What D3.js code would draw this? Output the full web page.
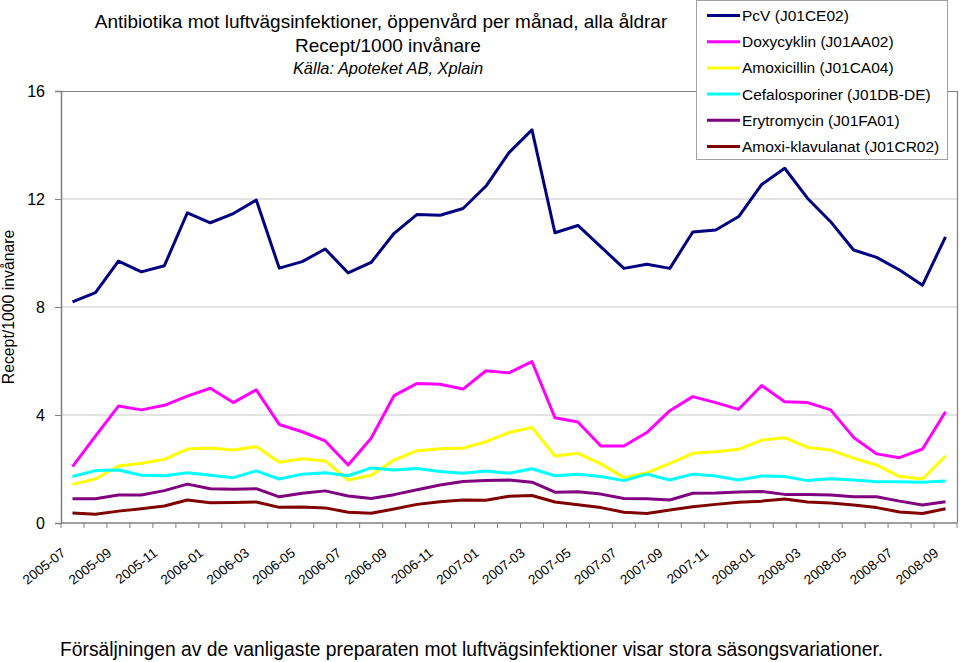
<!DOCTYPE html>
<html><head><meta charset="utf-8">
<script src="https://cdn.jsdelivr.net/npm/d3@7"></script>
<style>
html,body{margin:0;padding:0;background:#fff;}
svg{display:block;font-family:"Liberation Sans",Arial,sans-serif;}
</style></head>
<body>
<svg id="chart" width="960" height="662"></svg>
<script>
const months = ["2005-07","2005-08","2005-09","2005-10","2005-11","2005-12","2006-01","2006-02","2006-03","2006-04","2006-05","2006-06","2006-07","2006-08","2006-09","2006-10","2006-11","2006-12","2007-01","2007-02","2007-03","2007-04","2007-05","2007-06","2007-07","2007-08","2007-09","2007-10","2007-11","2007-12","2008-01","2008-02","2008-03","2008-04","2008-05","2008-06","2008-07","2008-08","2008-09"];
const pcv = [8.19,8.53,9.70,9.30,9.53,11.49,11.12,11.46,11.96,9.44,9.68,10.15,9.26,9.65,10.73,11.43,11.40,11.65,12.48,13.72,14.56,10.75,11.02,10.23,9.43,9.58,9.43,10.78,10.85,11.35,12.54,13.14,12.02,11.16,10.11,9.84,9.37,8.81,10.60];
const doxy = [2.09,3.22,4.33,4.19,4.36,4.70,4.99,4.46,4.93,3.65,3.38,3.04,2.15,3.14,4.72,5.17,5.14,4.96,5.64,5.56,5.98,3.90,3.74,2.85,2.85,3.35,4.16,4.68,4.46,4.21,5.09,4.49,4.46,4.19,3.17,2.56,2.42,2.74,4.12];
const amox = [1.43,1.63,2.11,2.21,2.36,2.74,2.78,2.70,2.83,2.25,2.38,2.30,1.59,1.77,2.33,2.68,2.75,2.78,3.01,3.35,3.54,2.48,2.58,2.19,1.68,1.86,2.21,2.58,2.64,2.73,3.07,3.16,2.80,2.70,2.40,2.15,1.72,1.63,2.48];
const cefa = [1.72,1.94,1.96,1.77,1.75,1.86,1.77,1.68,1.93,1.63,1.81,1.86,1.75,2.04,1.96,2.02,1.91,1.84,1.93,1.84,2.01,1.75,1.81,1.72,1.57,1.81,1.59,1.81,1.74,1.59,1.74,1.72,1.57,1.64,1.59,1.53,1.53,1.51,1.56];
const ery = [0.90,0.90,1.04,1.04,1.20,1.44,1.27,1.25,1.27,0.97,1.10,1.19,1.00,0.91,1.05,1.23,1.41,1.54,1.57,1.59,1.51,1.14,1.16,1.07,0.91,0.90,0.85,1.10,1.11,1.15,1.17,1.06,1.06,1.04,0.97,0.97,0.81,0.67,0.79];
const amoxKlav = [0.37,0.32,0.44,0.53,0.63,0.85,0.75,0.76,0.78,0.58,0.59,0.56,0.40,0.36,0.52,0.69,0.79,0.85,0.84,0.99,1.02,0.78,0.68,0.57,0.40,0.35,0.48,0.60,0.69,0.77,0.81,0.89,0.78,0.74,0.67,0.57,0.41,0.35,0.53];
const seriesNames = ["PcV (J01CE02)","Doxycyklin (J01AA02)","Amoxicillin (J01CA04)","Cefalosporiner (J01DB-DE)","Erytromycin (J01FA01)","Amoxi-klavulanat (J01CR02)"];
const seriesColors = ["#000080","#ff00ff","#ffff00","#00ffff","#800080","#800000"];
const yTicks = [0,4,8,12,16];
const titleLines = ["Antibiotika mot luftvägsinfektioner, öppenvård per månad, alla åldrar","Recept/1000 invånare","Källa: Apoteket AB, Xplain"];
const yLabel = "Recept/1000 invånare";
const footer = "Försäljningen av de vanligaste preparaten mot luftvägsinfektioner visar stora säsongsvariationer.";

const seriesValues = [pcv, doxy, amox, cefa, ery, amoxKlav];
const svg = d3.select("#chart");
const L = 61, R = 957, T = 91, B = 523;

const x = d3.scaleBand().domain(months).range([L, R]).padding(0);
const y = d3.scaleLinear().domain([0, 16]).range([B, T]);

// gridlines
svg.append("g").selectAll("line").data(yTicks.filter(d => d > 0 && d < 16)).join("line")
  .attr("x1", L).attr("x2", R).attr("y1", d => y(d)).attr("y2", d => y(d))
  .attr("stroke", "#c8c8c8").attr("stroke-width", 1);

// plot border (top and right)
svg.append("path").attr("d", `M${L},${T+0.5}H${R+0.5}V${B}`)
  .attr("fill", "none").attr("stroke", "#808080").attr("stroke-width", 1.2);

// y axis
const yAxis = d3.axisLeft(y).tickValues(yTicks).tickSize(6).tickPadding(10);
const gy = svg.append("g").attr("transform", `translate(${L},0)`).call(yAxis);
gy.select(".domain").attr("stroke", "#808080").attr("stroke-width", 1.5);
gy.selectAll(".tick line").attr("stroke", "#808080");
gy.selectAll("text").attr("font-size", 16).attr("fill", "#000").attr("font-family", "Liberation Sans, Arial, sans-serif");

// x axis with ticks at category boundaries
const gx = svg.append("g").attr("transform", `translate(0,${B})`);
gx.append("line").attr("x1", L).attr("x2", R).attr("stroke", "#808080").attr("stroke-width", 1.5);
gx.selectAll("line.tk").data(months.concat(["end"])).join("line").attr("class", "tk")
  .attr("x1", (d, i) => i < months.length ? x(d) : R).attr("x2", (d, i) => i < months.length ? x(d) : R)
  .attr("y1", 0).attr("y2", 5).attr("stroke", "#808080");
gx.selectAll("text").data(months.filter((d, i) => i % 2 === 0)).join("text")
  .attr("transform", d => `translate(${x(d) + x.bandwidth() / 2 - 9},${28}) rotate(-38)`)
  .attr("text-anchor", "end").attr("dy", "0.35em")
  .attr("font-size", 13.5).attr("fill", "#000").text(d => d);

// lines
const line = d3.line().x((d, i) => x(months[i]) + x.bandwidth() / 2).y(d => y(d));
svg.append("g").selectAll("path").data(seriesValues).join("path")
  .attr("d", d => line(d)).attr("fill", "none")
  .attr("stroke", (d, i) => seriesColors[i]).attr("stroke-width", 3)
  .attr("stroke-linejoin", "round");

// titles
svg.append("text").attr("x", 381).attr("y", 28).attr("text-anchor", "middle").attr("font-size", 19).text(titleLines[0]);
svg.append("text").attr("x", 388).attr("y", 52).attr("text-anchor", "middle").attr("font-size", 19).text(titleLines[1]);
svg.append("text").attr("x", 388).attr("y", 74).attr("text-anchor", "middle").attr("font-size", 16.4).attr("font-style", "italic").text(titleLines[2]);

// y label
svg.append("text").attr("transform", `translate(14,307) rotate(-90)`).attr("text-anchor", "middle")
  .attr("font-size", 15.8).text(yLabel);

// footer
svg.append("text").attr("x", 60).attr("y", 656).attr("font-size", 19.3).text(footer);

// legend
const lg = svg.append("g");
lg.append("rect").attr("x", 696.5).attr("y", 0.5).attr("width", 251).attr("height", 159)
  .attr("fill", "#fff").attr("stroke", "#a0a0a0");
const rows = lg.selectAll("g").data(seriesNames).join("g")
  .attr("transform", (d, i) => `translate(0,${15.5 + i * 26.2})`);
rows.append("line").attr("x1", 707).attr("x2", 740).attr("stroke", (d, i) => seriesColors[i]).attr("stroke-width", 3);
rows.append("text").attr("x", 742).attr("dy", "0.35em").attr("font-size", 15.5).text(d => d);
</script>
</body></html>
